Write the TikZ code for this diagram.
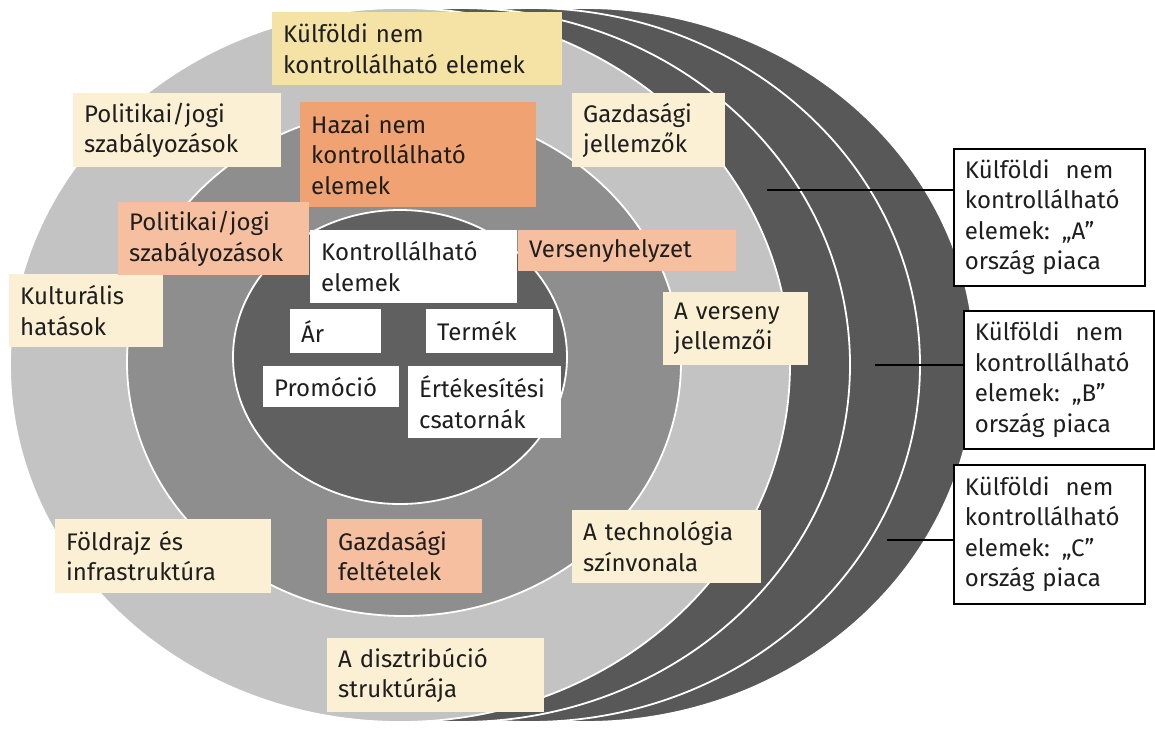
\documentclass[tikz,border=0pt]{standalone}
\usepackage{fontspec}
\setmainfont{Fira Sans}
\definecolor{labelink}{HTML}{1E1E1E}
\definecolor{shellgray}{HTML}{585858}
\definecolor{outergray}{HTML}{C3C3C3}
\definecolor{middlegray}{HTML}{8E8E8E}
\definecolor{innergray}{HTML}{606060}
\definecolor{boxyellow}{HTML}{F4E3A5}
\definecolor{boxcream}{HTML}{FBF0D3}
\definecolor{boxorange}{HTML}{F1A272}
\definecolor{boxsalmon}{HTML}{F6BFA0}

\begin{document}
\begin{tikzpicture}[
  x=1pt,
  y=-1pt,
  every node/.style={font=\fontsize{24}{30.5}\selectfont, text=labelink},
  ring/.style={draw=white, line width=1.8pt},
  lbox/.style={anchor=north west, align=left, inner xsep=11pt, inner ysep=0pt},
  yellowbox/.style={lbox, fill=boxyellow},
  creambox/.style={lbox, fill=boxcream},
  orangebox/.style={lbox, fill=boxorange},
  salmonbox/.style={lbox, fill=boxsalmon},
  whitebox/.style={lbox, fill=white},
  marketbox/.style={lbox, fill=white, draw=black, line width=1.8pt},
  leader/.style={black, line width=2.8pt}
]
  \useasboundingbox (0,0) rectangle (1155,729);

  % ---- the foreign markets behind the disc -----------------------------
  \fill[shellgray, ring] (585,365) ellipse (390 and 357);
  \fill[shellgray, ring] (530,365) ellipse (390 and 357);
  \fill[shellgray, ring] (460,365) ellipse (390 and 357);

  % ---- the three rings --------------------------------------------------
  \fill[outergray, ring] (400,365) ellipse (390 and 357);
  \fill[middlegray, ring] (404,362) ellipse (277 and 254);
  \fill[innergray, ring] (400,357) ellipse (167 and 147);

  % ---- outer ring: foreign uncontrollable elements ----------------------
  \node[yellowbox, text width=268pt, minimum height=73pt] (extern) at (272,12)
    {Külföldi nem\\kontrollálható elemek};
  \node[creambox, text width=186pt, minimum height=74pt] (polout) at (73,93)
    {Politikai/jogi\\szabályozások};
  \node[creambox, text width=131pt, minimum height=74pt] (econout) at (572,93)
    {Gazdasági\\jellemzők};
  \node[creambox, text width=132pt, minimum height=73pt] (culture) at (9,274)
    {Kulturális\\hatások};
  \node[creambox, text width=123pt, minimum height=73pt] (rivals) at (663,292)
    {A verseny\\jellemzői};
  \node[creambox, text width=194pt, minimum height=74pt] (geo) at (55,519)
    {Földrajz és\\infrastruktúra};
  \node[creambox, text width=167pt, minimum height=73pt] (tech) at (572,510)
    {A technológia\\színvonala};
  \node[creambox, text width=195pt, minimum height=74pt] (distrib) at (327,638)
    {A disztribúció\\struktúrája};

  % ---- middle ring: domestic uncontrollable elements --------------------
  \node[orangebox, text width=214pt, minimum height=105pt] (domestic) at (300,102)
    {Hazai nem\\kontrollálható\\elemek};
  \node[salmonbox, text width=169pt, minimum height=73pt] (polin) at (118,202)
    {Politikai/jogi\\szabályozások};
  \node[salmonbox, text width=196pt, minimum height=41pt] (contest) at (518,230)
    {Versenyhelyzet};
  \node[salmonbox, text width=133pt, minimum height=74pt] (econin) at (327,519)
    {Gazdasági\\feltételek};

  % ---- core: controllable elements --------------------------------------
  \node[whitebox, text width=185pt, minimum height=73pt] (control) at (310,230)
    {Kontrollálható\\elemek};
  \node[whitebox, text width=69pt, minimum height=44pt] (price) at (290,309) {Ár};
  \node[whitebox, text width=105pt, minimum height=44pt] (product) at (426,309)
    {Termék};
  \node[whitebox, text width=114pt, minimum height=41pt] (promo) at (263,366)
    {Promóció};
  \node[whitebox, text width=131pt, minimum height=72pt] (channel) at (408,366)
    {Értékesítési\\csatornák};

  % ---- the country markets ----------------------------------------------
  \node[marketbox, text width=169pt, minimum height=137pt] (mktA) at (953,148)
    {Külföldi\ \ nem\\kontrollálható\\elemek: „A”\\ország piaca};
  \node[marketbox, text width=168pt, minimum height=138pt] (mktB) at (963,310)
    {Külföldi\ \ nem\\kontrollálható\\elemek: „B”\\ország piaca};
  \node[marketbox, text width=169pt, minimum height=139pt] (mktC) at (953,464)
    {Külföldi\ \ nem\\kontrollálható\\elemek: „C”\\ország piaca};

  \coordinate (shellA) at (767,190);
  \coordinate (shellB) at (875,365);
  \coordinate (shellC) at (887,540);
  \draw[leader] (shellA) -- (shellA -| mktA.west);
  \draw[leader] (shellB) -- (shellB -| mktB.west);
  \draw[leader] (shellC) -- (shellC -| mktC.west);
\end{tikzpicture}
\end{document}
